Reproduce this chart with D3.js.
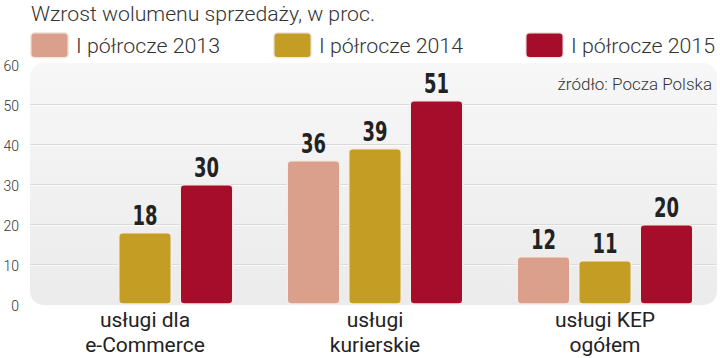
<!DOCTYPE html>
<html><head><meta charset="utf-8">
<script src="https://cdn.jsdelivr.net/npm/d3@7"></script>
<style>
html,body{margin:0;padding:0;background:#fff;}
svg{display:block;}
</style>
</head><body>
<svg id="chart" width="720" height="358"></svg>
<script>
const title = "Wzrost wolumenu sprzedaży, w proc.";
const source = "źródło: Pocza Polska";
const categories = ["usługi dla\ne-Commerce", "usługi\nkurierskie", "usługi KEP\nogółem"];
const seriesNames = ["I półrocze 2013", "I półrocze 2014", "I półrocze 2015"];
const seriesColors = ["#dba08b", "#c49d24", "#a50d2b"];
const values2013 = [null, 36, 12];
const values2014 = [18, 39, 11];
const values2015 = [30, 51, 20];
const yTicks = [0, 10, 20, 30, 40, 50, 60];

const series = [values2013, values2014, values2015];
const svg = d3.select("#chart");

const y = d3.scaleLinear().domain([0, 60]).range([304, 64]);
const x0 = d3.scaleBand().domain(categories).range([30, 720]).padding(0);
const x1 = d3.scaleBand().domain(seriesNames).range([0, x0.bandwidth()])
  .paddingInner(0.122).paddingOuter(0.431);

const defs = svg.append("defs");
const grad = defs.append("linearGradient").attr("id", "panelGrad")
  .attr("x1", 0).attr("y1", 0).attr("x2", 0).attr("y2", 1);
grad.append("stop").attr("offset", "0%").attr("stop-color", "#f7f7f7");
grad.append("stop").attr("offset", "100%").attr("stop-color", "#ebebeb");

// panel
svg.append("rect").attr("x", 30).attr("y", 63).attr("width", 687).attr("height", 242)
  .attr("rx", 14).attr("fill", "url(#panelGrad)");

// gridlines
const gridVals = yTicks.filter(d => d > 0 && d < 60);
svg.append("g").selectAll("line").data(gridVals).join("line")
  .attr("x1", 30).attr("x2", 717)
  .attr("y1", d => Math.round(y(d)) + 0.5).attr("y2", d => Math.round(y(d)) + 0.5)
  .attr("stroke", "#d9d9d9").attr("stroke-width", 1);
svg.append("g").selectAll("line").data(gridVals).join("line")
  .attr("x1", 30).attr("x2", 717)
  .attr("y1", d => Math.round(y(d)) + 1.5).attr("y2", d => Math.round(y(d)) + 1.5)
  .attr("stroke", "#ffffff").attr("stroke-width", 1).attr("opacity", 0.8);

// y axis labels
const yAxis = svg.append("g").attr("transform", "translate(19,0)")
  .call(d3.axisLeft(y).tickValues(yTicks).tickSize(0).tickPadding(0));
yAxis.select(".domain").remove();
yAxis.selectAll("text").attr("font-family", "Roboto, sans-serif").attr("font-weight", 300)
  .attr("font-size", 14).attr("fill", "#333").attr("dy", "0.36em").attr("y", 1);

// title
svg.append("text").attr("x", 31).attr("y", 21).text(title)
  .attr("font-family", "Roboto, sans-serif").attr("font-weight", 300)
  .attr("font-size", 21).attr("fill", "#333")
  .attr("textLength", 344).attr("lengthAdjust", "spacingAndGlyphs");

// legend
const legendX = [30, 273, 525];
const lg = svg.append("g").selectAll("g").data(seriesNames).join("g")
  .attr("transform", (d, i) => `translate(${legendX[i]},0)`);
lg.append("rect").attr("x", 0.75).attr("y", 32.75).attr("width", 37.5).attr("height", 25)
  .attr("rx", 4).attr("fill", (d, i) => seriesColors[i])
  .attr("stroke", "#f3e7e1").attr("stroke-width", 1.5);
lg.append("text").attr("x", 46).attr("y", 53).text(d => d)
  .attr("font-family", "Roboto, sans-serif").attr("font-weight", 300)
  .attr("font-size", 21).attr("fill", "#333")
  .attr("textLength", 144).attr("lengthAdjust", "spacingAndGlyphs");

// source
svg.append("text").attr("x", 712).attr("y", 90).attr("text-anchor", "end").text(source)
  .attr("font-family", "Roboto, sans-serif").attr("font-weight", 300)
  .attr("font-size", 17).attr("fill", "#333");

// bars
const barData = [];
categories.forEach((c, ci) => {
  series.forEach((s, si) => {
    if (s[ci] != null) barData.push({cat: c, name: seriesNames[si], v: s[ci], color: seriesColors[si]});
  });
});
const bars = svg.append("g");
bars.selectAll("rect").data(barData).join("rect")
  .attr("x", d => x0(d.cat) + x1(d.name) + 0.75)
  .attr("y", d => y(d.v) + 0.75)
  .attr("width", x1.bandwidth() - 1.5)
  .attr("height", d => y(0) - y(d.v) - 0.75)
  .attr("rx", 4)
  .attr("fill", d => d.color)
  .attr("stroke", "#f6ece6").attr("stroke-width", 1.5);

// value labels (condensed bold)
bars.selectAll("text").data(barData).join("text")
  .attr("x", d => x0(d.cat) + x1(d.name) + x1.bandwidth() / 2)
  .attr("y", d => y(d.v) - 7)
  .attr("text-anchor", "middle")
  .attr("font-family", "'DejaVu Sans Condensed', 'DejaVu Sans', sans-serif")
  .attr("font-weight", "bold").attr("font-size", 26).attr("fill", "#222")
  .attr("textLength", d => String(d.v).length * 12.5)
  .attr("lengthAdjust", "spacingAndGlyphs")
  .text(d => d.v);

// category labels
const cl = svg.append("g").selectAll("text").data(categories).join("text")
  .attr("x", d => x0(d) + x0.bandwidth() / 2)
  .attr("y", 327)
  .attr("text-anchor", "middle")
  .attr("font-family", "Roboto, sans-serif").attr("font-weight", 400)
  .attr("font-size", 21).attr("fill", "#222");
cl.each(function(d) {
  const lines = d.split("\n");
  d3.select(this).selectAll("tspan").data(lines).join("tspan")
    .attr("x", x0(d) + x0.bandwidth() / 2)
    .attr("dy", (l, i) => i === 0 ? 0 : 25)
    .text(l => l);
});
</script>
</body></html>
